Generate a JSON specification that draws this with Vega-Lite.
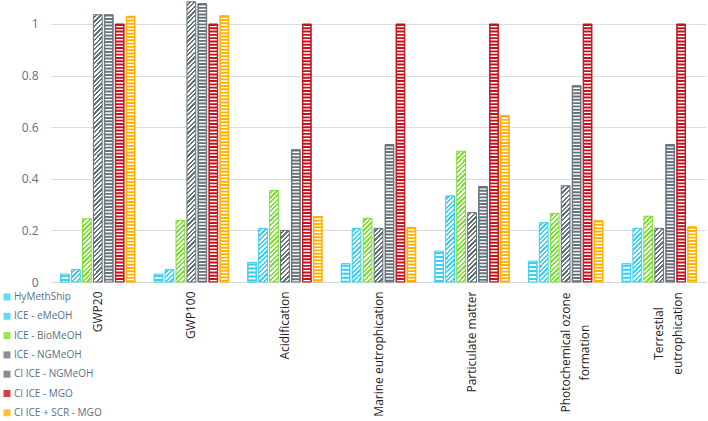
{
  "$schema": "https://vega.github.io/schema/vega-lite/v6.json",
  "width": 655,
  "height": 282,
  "autosize": "none",
  "padding": {"left": 51, "top": 0, "right": 2, "bottom": 139},
  "background": "white",
  "config": {"view": {"stroke": null}, "font": "Open Sans"},
  "params": [
    {"name": "dstops", "value": [
      {"offset":0.0078,"color":"#fff"},{"offset":0.0078,"color":"transparent"},
      {"offset":0.0156,"color":"transparent"},{"offset":0.0156,"color":"#fff"},
      {"offset":0.0234,"color":"#fff"},{"offset":0.0234,"color":"transparent"},
      {"offset":0.0313,"color":"transparent"},{"offset":0.0313,"color":"#fff"},
      {"offset":0.0391,"color":"#fff"},{"offset":0.0391,"color":"transparent"},
      {"offset":0.0469,"color":"transparent"},{"offset":0.0469,"color":"#fff"},
      {"offset":0.0547,"color":"#fff"},{"offset":0.0547,"color":"transparent"},
      {"offset":0.0625,"color":"transparent"},{"offset":0.0625,"color":"#fff"},
      {"offset":0.0703,"color":"#fff"},{"offset":0.0703,"color":"transparent"},
      {"offset":0.0781,"color":"transparent"},{"offset":0.0781,"color":"#fff"},
      {"offset":0.0859,"color":"#fff"},{"offset":0.0859,"color":"transparent"},
      {"offset":0.0938,"color":"transparent"},{"offset":0.0938,"color":"#fff"},
      {"offset":0.1016,"color":"#fff"},{"offset":0.1016,"color":"transparent"},
      {"offset":0.1094,"color":"transparent"},{"offset":0.1094,"color":"#fff"},
      {"offset":0.1172,"color":"#fff"},{"offset":0.1172,"color":"transparent"},
      {"offset":0.125,"color":"transparent"},{"offset":0.125,"color":"#fff"},
      {"offset":0.1328,"color":"#fff"},{"offset":0.1328,"color":"transparent"},
      {"offset":0.1406,"color":"transparent"},{"offset":0.1406,"color":"#fff"},
      {"offset":0.1484,"color":"#fff"},{"offset":0.1484,"color":"transparent"},
      {"offset":0.1563,"color":"transparent"},{"offset":0.1563,"color":"#fff"},
      {"offset":0.1641,"color":"#fff"},{"offset":0.1641,"color":"transparent"},
      {"offset":0.1719,"color":"transparent"},{"offset":0.1719,"color":"#fff"},
      {"offset":0.1797,"color":"#fff"},{"offset":0.1797,"color":"transparent"},
      {"offset":0.1875,"color":"transparent"},{"offset":0.1875,"color":"#fff"},
      {"offset":0.1953,"color":"#fff"},{"offset":0.1953,"color":"transparent"},
      {"offset":0.2031,"color":"transparent"},{"offset":0.2031,"color":"#fff"},
      {"offset":0.2109,"color":"#fff"},{"offset":0.2109,"color":"transparent"},
      {"offset":0.2188,"color":"transparent"},{"offset":0.2188,"color":"#fff"},
      {"offset":0.2266,"color":"#fff"},{"offset":0.2266,"color":"transparent"},
      {"offset":0.2344,"color":"transparent"},{"offset":0.2344,"color":"#fff"},
      {"offset":0.2422,"color":"#fff"},{"offset":0.2422,"color":"transparent"},
      {"offset":0.25,"color":"transparent"},{"offset":0.25,"color":"#fff"},
      {"offset":0.2578,"color":"#fff"},{"offset":0.2578,"color":"transparent"},
      {"offset":0.2656,"color":"transparent"},{"offset":0.2656,"color":"#fff"},
      {"offset":0.2734,"color":"#fff"},{"offset":0.2734,"color":"transparent"},
      {"offset":0.2813,"color":"transparent"},{"offset":0.2813,"color":"#fff"},
      {"offset":0.2891,"color":"#fff"},{"offset":0.2891,"color":"transparent"},
      {"offset":0.2969,"color":"transparent"},{"offset":0.2969,"color":"#fff"},
      {"offset":0.3047,"color":"#fff"},{"offset":0.3047,"color":"transparent"},
      {"offset":0.3125,"color":"transparent"},{"offset":0.3125,"color":"#fff"},
      {"offset":0.3203,"color":"#fff"},{"offset":0.3203,"color":"transparent"},
      {"offset":0.3281,"color":"transparent"},{"offset":0.3281,"color":"#fff"},
      {"offset":0.3359,"color":"#fff"},{"offset":0.3359,"color":"transparent"},
      {"offset":0.3438,"color":"transparent"},{"offset":0.3438,"color":"#fff"},
      {"offset":0.3516,"color":"#fff"},{"offset":0.3516,"color":"transparent"},
      {"offset":0.3594,"color":"transparent"},{"offset":0.3594,"color":"#fff"},
      {"offset":0.3672,"color":"#fff"},{"offset":0.3672,"color":"transparent"},
      {"offset":0.375,"color":"transparent"},{"offset":0.375,"color":"#fff"},
      {"offset":0.3828,"color":"#fff"},{"offset":0.3828,"color":"transparent"},
      {"offset":0.3906,"color":"transparent"},{"offset":0.3906,"color":"#fff"},
      {"offset":0.3984,"color":"#fff"},{"offset":0.3984,"color":"transparent"},
      {"offset":0.4063,"color":"transparent"},{"offset":0.4063,"color":"#fff"},
      {"offset":0.4141,"color":"#fff"},{"offset":0.4141,"color":"transparent"},
      {"offset":0.4219,"color":"transparent"},{"offset":0.4219,"color":"#fff"},
      {"offset":0.4297,"color":"#fff"},{"offset":0.4297,"color":"transparent"},
      {"offset":0.4375,"color":"transparent"},{"offset":0.4375,"color":"#fff"},
      {"offset":0.4453,"color":"#fff"},{"offset":0.4453,"color":"transparent"},
      {"offset":0.4531,"color":"transparent"},{"offset":0.4531,"color":"#fff"},
      {"offset":0.4609,"color":"#fff"},{"offset":0.4609,"color":"transparent"},
      {"offset":0.4688,"color":"transparent"},{"offset":0.4688,"color":"#fff"},
      {"offset":0.4766,"color":"#fff"},{"offset":0.4766,"color":"transparent"},
      {"offset":0.4844,"color":"transparent"},{"offset":0.4844,"color":"#fff"},
      {"offset":0.4922,"color":"#fff"},{"offset":0.4922,"color":"transparent"},
      {"offset":0.5,"color":"transparent"},{"offset":0.5,"color":"#fff"},
      {"offset":0.5078,"color":"#fff"},{"offset":0.5078,"color":"transparent"},
      {"offset":0.5156,"color":"transparent"},{"offset":0.5156,"color":"#fff"},
      {"offset":0.5234,"color":"#fff"},{"offset":0.5234,"color":"transparent"},
      {"offset":0.5313,"color":"transparent"},{"offset":0.5313,"color":"#fff"},
      {"offset":0.5391,"color":"#fff"},{"offset":0.5391,"color":"transparent"},
      {"offset":0.5469,"color":"transparent"},{"offset":0.5469,"color":"#fff"},
      {"offset":0.5547,"color":"#fff"},{"offset":0.5547,"color":"transparent"},
      {"offset":0.5625,"color":"transparent"},{"offset":0.5625,"color":"#fff"},
      {"offset":0.5703,"color":"#fff"},{"offset":0.5703,"color":"transparent"},
      {"offset":0.5781,"color":"transparent"},{"offset":0.5781,"color":"#fff"},
      {"offset":0.5859,"color":"#fff"},{"offset":0.5859,"color":"transparent"},
      {"offset":0.5938,"color":"transparent"},{"offset":0.5938,"color":"#fff"},
      {"offset":0.6016,"color":"#fff"},{"offset":0.6016,"color":"transparent"},
      {"offset":0.6094,"color":"transparent"},{"offset":0.6094,"color":"#fff"},
      {"offset":0.6172,"color":"#fff"},{"offset":0.6172,"color":"transparent"},
      {"offset":0.625,"color":"transparent"},{"offset":0.625,"color":"#fff"},
      {"offset":0.6328,"color":"#fff"},{"offset":0.6328,"color":"transparent"},
      {"offset":0.6406,"color":"transparent"},{"offset":0.6406,"color":"#fff"},
      {"offset":0.6484,"color":"#fff"},{"offset":0.6484,"color":"transparent"},
      {"offset":0.6563,"color":"transparent"},{"offset":0.6563,"color":"#fff"},
      {"offset":0.6641,"color":"#fff"},{"offset":0.6641,"color":"transparent"},
      {"offset":0.6719,"color":"transparent"},{"offset":0.6719,"color":"#fff"},
      {"offset":0.6797,"color":"#fff"},{"offset":0.6797,"color":"transparent"},
      {"offset":0.6875,"color":"transparent"},{"offset":0.6875,"color":"#fff"},
      {"offset":0.6953,"color":"#fff"},{"offset":0.6953,"color":"transparent"},
      {"offset":0.7031,"color":"transparent"},{"offset":0.7031,"color":"#fff"},
      {"offset":0.7109,"color":"#fff"},{"offset":0.7109,"color":"transparent"},
      {"offset":0.7188,"color":"transparent"},{"offset":0.7188,"color":"#fff"},
      {"offset":0.7266,"color":"#fff"},{"offset":0.7266,"color":"transparent"},
      {"offset":0.7344,"color":"transparent"},{"offset":0.7344,"color":"#fff"},
      {"offset":0.7422,"color":"#fff"},{"offset":0.7422,"color":"transparent"},
      {"offset":0.75,"color":"transparent"},{"offset":0.75,"color":"#fff"},
      {"offset":0.7578,"color":"#fff"},{"offset":0.7578,"color":"transparent"},
      {"offset":0.7656,"color":"transparent"},{"offset":0.7656,"color":"#fff"},
      {"offset":0.7734,"color":"#fff"},{"offset":0.7734,"color":"transparent"},
      {"offset":0.7813,"color":"transparent"},{"offset":0.7813,"color":"#fff"},
      {"offset":0.7891,"color":"#fff"},{"offset":0.7891,"color":"transparent"},
      {"offset":0.7969,"color":"transparent"},{"offset":0.7969,"color":"#fff"},
      {"offset":0.8047,"color":"#fff"},{"offset":0.8047,"color":"transparent"},
      {"offset":0.8125,"color":"transparent"},{"offset":0.8125,"color":"#fff"},
      {"offset":0.8203,"color":"#fff"},{"offset":0.8203,"color":"transparent"},
      {"offset":0.8281,"color":"transparent"},{"offset":0.8281,"color":"#fff"},
      {"offset":0.8359,"color":"#fff"},{"offset":0.8359,"color":"transparent"},
      {"offset":0.8438,"color":"transparent"},{"offset":0.8438,"color":"#fff"},
      {"offset":0.8516,"color":"#fff"},{"offset":0.8516,"color":"transparent"},
      {"offset":0.8594,"color":"transparent"},{"offset":0.8594,"color":"#fff"},
      {"offset":0.8672,"color":"#fff"},{"offset":0.8672,"color":"transparent"},
      {"offset":0.875,"color":"transparent"},{"offset":0.875,"color":"#fff"},
      {"offset":0.8828,"color":"#fff"},{"offset":0.8828,"color":"transparent"},
      {"offset":0.8906,"color":"transparent"},{"offset":0.8906,"color":"#fff"},
      {"offset":0.8984,"color":"#fff"},{"offset":0.8984,"color":"transparent"},
      {"offset":0.9063,"color":"transparent"},{"offset":0.9063,"color":"#fff"},
      {"offset":0.9141,"color":"#fff"},{"offset":0.9141,"color":"transparent"},
      {"offset":0.9219,"color":"transparent"},{"offset":0.9219,"color":"#fff"},
      {"offset":0.9297,"color":"#fff"},{"offset":0.9297,"color":"transparent"},
      {"offset":0.9375,"color":"transparent"},{"offset":0.9375,"color":"#fff"},
      {"offset":0.9453,"color":"#fff"},{"offset":0.9453,"color":"transparent"},
      {"offset":0.9531,"color":"transparent"},{"offset":0.9531,"color":"#fff"},
      {"offset":0.9609,"color":"#fff"},{"offset":0.9609,"color":"transparent"},
      {"offset":0.9688,"color":"transparent"},{"offset":0.9688,"color":"#fff"},
      {"offset":0.9766,"color":"#fff"},{"offset":0.9766,"color":"transparent"},
      {"offset":0.9844,"color":"transparent"},{"offset":0.9844,"color":"#fff"},
      {"offset":0.9922,"color":"#fff"},{"offset":0.9922,"color":"transparent"}
    ]}
  ],
  "data": {"values": [
    {"c":"GWP20","s":"HyMethShip","v":0.031},
    {"c":"GWP20","s":"ICE - eMeOH","v":0.048},
    {"c":"GWP20","s":"ICE - BioMeOH","v":0.245},
    {"c":"GWP20","s":"ICE - NGMeOH","v":1.036},
    {"c":"GWP20","s":"CI ICE - NGMeOH","v":1.036},
    {"c":"GWP20","s":"CI ICE - MGO","v":1.0},
    {"c":"GWP20","s":"CI ICE + SCR - MGO","v":1.03},
    {"c":"GWP100","s":"HyMethShip","v":0.031},
    {"c":"GWP100","s":"ICE - eMeOH","v":0.048},
    {"c":"GWP100","s":"ICE - BioMeOH","v":0.239},
    {"c":"GWP100","s":"ICE - NGMeOH","v":1.086},
    {"c":"GWP100","s":"CI ICE - NGMeOH","v":1.079},
    {"c":"GWP100","s":"CI ICE - MGO","v":1.0},
    {"c":"GWP100","s":"CI ICE + SCR - MGO","v":1.032},
    {"c":"Acidification","s":"HyMethShip","v":0.076},
    {"c":"Acidification","s":"ICE - eMeOH","v":0.208},
    {"c":"Acidification","s":"ICE - BioMeOH","v":0.355},
    {"c":"Acidification","s":"ICE - NGMeOH","v":0.2},
    {"c":"Acidification","s":"CI ICE - NGMeOH","v":0.513},
    {"c":"Acidification","s":"CI ICE - MGO","v":1.0},
    {"c":"Acidification","s":"CI ICE + SCR - MGO","v":0.254},
    {"c":"Marine eutrophication","s":"HyMethShip","v":0.071},
    {"c":"Marine eutrophication","s":"ICE - eMeOH","v":0.208},
    {"c":"Marine eutrophication","s":"ICE - BioMeOH","v":0.247},
    {"c":"Marine eutrophication","s":"ICE - NGMeOH","v":0.208},
    {"c":"Marine eutrophication","s":"CI ICE - NGMeOH","v":0.533},
    {"c":"Marine eutrophication","s":"CI ICE - MGO","v":1.0},
    {"c":"Marine eutrophication","s":"CI ICE + SCR - MGO","v":0.212},
    {"c":"Particulate matter","s":"HyMethShip","v":0.12},
    {"c":"Particulate matter","s":"ICE - eMeOH","v":0.334},
    {"c":"Particulate matter","s":"ICE - BioMeOH","v":0.507},
    {"c":"Particulate matter","s":"ICE - NGMeOH","v":0.269},
    {"c":"Particulate matter","s":"CI ICE - NGMeOH","v":0.37},
    {"c":"Particulate matter","s":"CI ICE - MGO","v":1.0},
    {"c":"Particulate matter","s":"CI ICE + SCR - MGO","v":0.645},
    {"c":"Photochemical ozone formation","s":"HyMethShip","v":0.081},
    {"c":"Photochemical ozone formation","s":"ICE - eMeOH","v":0.23},
    {"c":"Photochemical ozone formation","s":"ICE - BioMeOH","v":0.266},
    {"c":"Photochemical ozone formation","s":"ICE - NGMeOH","v":0.373},
    {"c":"Photochemical ozone formation","s":"CI ICE - NGMeOH","v":0.761},
    {"c":"Photochemical ozone formation","s":"CI ICE - MGO","v":1.0},
    {"c":"Photochemical ozone formation","s":"CI ICE + SCR - MGO","v":0.238},
    {"c":"Terrestial eutrophication","s":"HyMethShip","v":0.071},
    {"c":"Terrestial eutrophication","s":"ICE - eMeOH","v":0.208},
    {"c":"Terrestial eutrophication","s":"ICE - BioMeOH","v":0.255},
    {"c":"Terrestial eutrophication","s":"ICE - NGMeOH","v":0.208},
    {"c":"Terrestial eutrophication","s":"CI ICE - NGMeOH","v":0.533},
    {"c":"Terrestial eutrophication","s":"CI ICE - MGO","v":1.0},
    {"c":"Terrestial eutrophication","s":"CI ICE + SCR - MGO","v":0.214}
  ]},
  "encoding": {
    "x": {
      "field": "c", "type": "nominal", "sort": null,
      "scale": {"paddingInner": 0.18, "paddingOuter": 0.09},
      "axis": {
        "title": null, "ticks": false, "domain": true, "domainColor": "#d3d8dd", "domainWidth": 1,
        "labelAngle": -90, "labelFontSize": 12, "labelColor": "#1e1e1e",
        "labelLimit": 0, "labelLineHeight": 19, "labelBaseline": "middle",
        "labelAlign": {"condition": {"test": "datum.label == 'Photochemical ozone formation' || datum.label == 'Terrestial eutrophication'", "value": "center"}, "value": "right"},
        "labelPadding": {"condition": [
          {"test": "datum.label == 'Photochemical ozone formation'", "value": 70},
          {"test": "datum.label == 'Terrestial eutrophication'", "value": 51}
        ], "value": 9},
        "labelExpr": "datum.label == 'Photochemical ozone formation' ? ['Photochemical ozone', 'formation'] : datum.label == 'Terrestial eutrophication' ? ['Terrestial', 'eutrophication'] : datum.label"
      }
    },
    "xOffset": {
      "field": "s", "type": "nominal",
      "sort": ["HyMethShip","ICE - eMeOH","ICE - BioMeOH","ICE - NGMeOH","CI ICE - NGMeOH","CI ICE - MGO","CI ICE + SCR - MGO"],
      "scale": {"paddingInner": 0.2, "paddingOuter": 0.1}
    },
    "y": {
      "field": "v", "type": "quantitative",
      "scale": {"domain": [0, 1.093], "nice": false, "zero": true},
      "axis": {
        "title": null, "values": [0, 0.2, 0.4, 0.6, 0.8, 1], "format": "~g",
        "ticks": false, "domain": false, "grid": true, "gridColor": "#d7dde3", "gridWidth": 1,
        "labelFontSize": 12, "labelColor": "#5f7080", "labelPadding": 13
      }
    }
  },
  "layer": [
    {
      "mark": {"type": "bar"},
      "encoding": {
        "fill": {
          "field": "s", "type": "nominal",
          "scale": {
            "domain": ["HyMethShip","ICE - eMeOH","ICE - BioMeOH","ICE - NGMeOH","CI ICE - NGMeOH","CI ICE - MGO","CI ICE + SCR - MGO"],
            "range": ["#3ccff0","#3ccff0","#7edf35","#67737b","#66737b","#c4121c","#ffb000"]
          },
          "legend": {
            "title": null, "orient": "none", "legendX": -49, "legendY": 292,
            "symbolType": "square", "symbolSize": 49, "symbolOpacity": 0.8, "symbolStrokeWidth": 0,
            "labelFontSize": 10, "labelColor": "#5b6f82", "labelOffset": 2,
            "rowPadding": 9.3, "padding": 0, "direction": "vertical", "labelLimit": 0
          }
        }
      }
    },
    {
      "transform": [{"filter": {"field": "s", "oneOf": ["ICE - eMeOH","ICE - BioMeOH","ICE - NGMeOH"]}}],
      "mark": {
        "type": "bar",
        "fill": {"expr": "{gradient: 'linear', x1: 0, y1: 0, x2: 8.8*294.4/(77.44+pow(datum.v*258,2)), y2: datum.v*258*294.4/(77.44+pow(datum.v*258,2)), stops: dstops}"}
      }
    },
    {
      "transform": [{"filter": {"field": "s", "oneOf": ["CI ICE - NGMeOH","CI ICE - MGO","CI ICE + SCR - MGO"]}}],
      "mark": {"type": "rule", "stroke": "#ffffff", "strokeWidth": 7, "strokeDash": [1.4, 1.9], "strokeDashOffset": 1.4},
      "encoding": {"y2": {"datum": 0}}
    },
    {
      "transform": [{"filter": {"field": "s", "equal": "HyMethShip"}}],
      "mark": {"type": "rule", "stroke": "#ffffff", "strokeWidth": 7, "strokeDash": [2, 2], "strokeDashOffset": 1},
      "encoding": {"y2": {"datum": 0}}
    },
    {
      "transform": [{"filter": {"field": "s", "equal": "HyMethShip"}}],
      "mark": {"type": "rule", "stroke": "#3ccff0", "strokeWidth": 2.4, "strokeDash": [2, 2], "strokeDashOffset": 3},
      "encoding": {"y2": {"datum": 0}}
    },
    {
      "mark": {"type": "bar", "fill": "transparent", "strokeWidth": 1},
      "encoding": {
        "stroke": {
          "field": "s", "type": "nominal", "legend": null,
          "scale": {
            "domain": ["HyMethShip","ICE - eMeOH","ICE - BioMeOH","ICE - NGMeOH","CI ICE - NGMeOH","CI ICE - MGO","CI ICE + SCR - MGO"],
            "range": ["#3ccff0","#3ccff0","#7edf35","#67737b","#66737b","#c4121c","#ffb000"]
          }
        }
      }
    }
  ]
}
